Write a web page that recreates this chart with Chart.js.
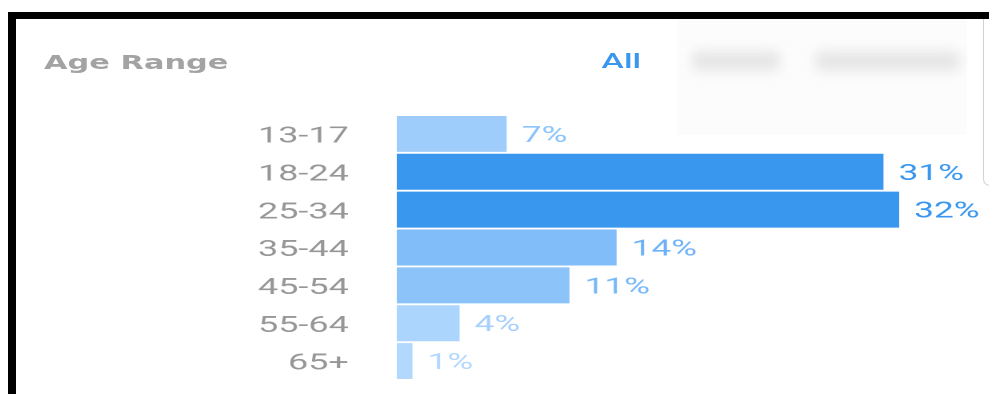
<!DOCTYPE html>
<html>
<head>
<meta charset="utf-8">
<script src="https://cdn.jsdelivr.net/npm/chart.js@4"></script>
<style>
  html, body { margin:0; padding:0; background:#fff; }
  body { width:989px; height:394px; position:relative; overflow:hidden; }
  .frame-top { position:absolute; left:8px; top:12px; width:981px; height:7px; background:#000; }
  .frame-left { position:absolute; left:8px; top:12px; width:8px; height:382px; background:#000; }
  .tabs-bg { position:absolute; left:677px; top:19px; width:290px; height:116px; background:#fcfcfc; }
  .blob { position:absolute; top:51px; height:20px; background:#e6e6e6; filter:blur(6px); border-radius:6px; }
  .side-card { position:absolute; left:983px; top:19px; width:10px; height:166px;
               border-left:1.5px solid #d2d2d2; border-bottom:1px solid #d2d2d2; border-bottom-left-radius:7px; }
  /* the reference screenshot is stretched sideways, so draw narrow and scale */
  .stretch { position:absolute; left:0; top:0; width:618px; height:394px; transform:scaleX(1.6); transform-origin:0 0; }
  .title { position:absolute; left:27.5px; top:51px; font:bold 19px "DejaVu Sans", sans-serif; color:#a3a3a3; }
  .tab-all { position:absolute; left:376px; top:49px; font:500 21px Roboto, sans-serif; color:#3a97ee; }
  #ages { position:absolute; left:0; top:100px; }
</style>
</head>
<body>
<div class="frame-top"></div>
<div class="frame-left"></div>
<div class="tabs-bg"></div>
<div class="blob" style="left:692px;width:88px"></div>
<div class="blob" style="left:815px;width:145px"></div>
<div class="side-card"></div>

<div class="stretch">
  <div class="title">Age Range</div>
  <div class="tab-all">All</div>
  <canvas id="ages" width="618" height="290"></canvas>
</div>

<script>
const ageLabels = ["13-17", "18-24", "25-34", "35-44", "45-54", "55-64", "65+"];
const agePercents = [7, 31, 32, 14, 11, 4, 1];
const barColors = ["#9ecdfb", "#3a97ee", "#3a97ee", "#80bdf9", "#8cc4fa", "#acd5fd", "#b3d8fd"];
const valueColors = ["#8cc4fa", "#3a97ee", "#3a97ee", "#6db2f6", "#78b8f7", "#a6d0fb", "#b3d8fd"];

// percent text just past the end of each bar
const valueLabels = {
  id: "valueLabels",
  afterDatasetsDraw(chart){
    const ctx = chart.ctx;
    const meta = chart.getDatasetMeta(0);
    ctx.save();
    ctx.font = "22px Roboto, sans-serif";
    ctx.textAlign = "left";
    ctx.textBaseline = "middle";
    meta.data.forEach((bar, i) => {
      ctx.fillStyle = valueColors[i];
      ctx.fillText(agePercents[i] + "%", bar.x + 9.4, bar.y + 2.5);
    });
    ctx.restore();
  }
};

new Chart(document.getElementById("ages").getContext("2d"), {
  type: "bar",
  data: {
    labels: ageLabels,
    datasets: [{
      data: agePercents,
      backgroundColor: barColors,
      borderWidth: 0,
      categoryPercentage: 1,
      barPercentage: 0.95
    }]
  },
  options: {
    indexAxis: "y",
    responsive: false,
    devicePixelRatio: 2,
    animation: false,
    layout: { padding: { top: 15, bottom: 10, left: 0, right: 56 } },
    plugins: {
      legend: { display: false },
      tooltip: { enabled: false }
    },
    scales: {
      x: { display: false, min: 0, max: 32 },
      y: {
        grid: { display: false },
        border: { display: false },
        afterFit(scale){
          scale.width = 248;
          scale.paddingTop = 0;
          scale.paddingBottom = 0;
        },
        ticks: {
          autoSkip: false,
          padding: 22,
          labelOffset: 3,
          color: "#979797",
          font: { family: "Roboto, sans-serif", size: 22.5 }
        }
      }
    }
  },
  plugins: [valueLabels]
});
</script>
</body>
</html>
